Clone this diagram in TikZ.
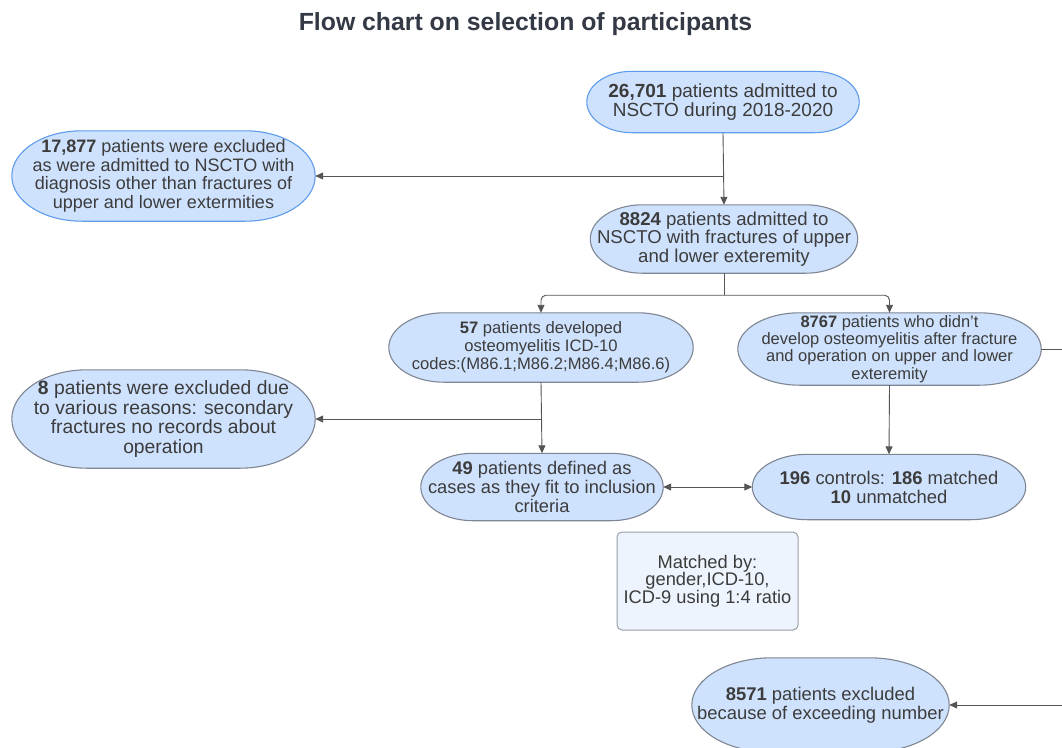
\documentclass[tikz,border=0pt]{standalone}
\usepackage{fontspec}
\setmainfont{Liberation Sans}
\usetikzlibrary{calc,arrows.meta,backgrounds}
\definecolor{boxfill}{HTML}{CFE2FD}
\definecolor{blueedge}{HTML}{5E9CEC}
\definecolor{grayedge}{HTML}{7E8693}
\definecolor{textcol}{HTML}{3C3C3C}
\definecolor{titlecol}{HTML}{333A45}
\definecolor{linecol}{HTML}{555555}
\definecolor{notefill}{HTML}{EEF4FD}
\definecolor{noteedge}{HTML}{9AA0A8}
\newcommand\fs[2]{\fontsize{#1}{#2}\selectfont}
\newcommand\stad[3]{%
  \path[fill=boxfill,draw=#3,line width=1.1pt]
    let \p1=(#1.north west), \p2=(#1.south east), \n1={(\y1-\y2)/2} in
    (\x1+#2pt,\y1) -- (\x2-#2pt,\y1)
    arc[start angle=90,end angle=-90,x radius=#2pt,y radius=\n1]
    -- (\x1+#2pt,\y2)
    arc[start angle=270,end angle=90,x radius=#2pt,y radius=\n1] -- cycle;}
\tikzset{
  txt/.style={inner sep=0pt, align=center, text=textcol},
  arr/.style={draw=linecol, line width=0.9pt, -{Triangle[length=8pt,width=7pt]}},
  dblarr/.style={draw=linecol, line width=0.9pt, {Triangle[length=8pt,width=7pt]}-{Triangle[length=8pt,width=7pt]}},
  ln/.style={draw=linecol, line width=0.9pt},
}
\begin{document}
\begin{tikzpicture}[x=1pt,y=1pt]
\useasboundingbox (0,0) rectangle (1062,-747);

\node[text=titlecol, font=\fs{24.8}{28}\bfseries] (title) at (525.5,-24) {Flow chart on selection of participants};

\node[txt, minimum width=272pt, minimum height=61pt, font=\fs{19}{19.5}] (A) at (723,-102)
  {\textbf{26,701} patients admitted to\\NSCTO during 2018-2020};
\node[txt, minimum width=303pt, minimum height=90pt, font=\fs{18}{18.5}] (B) at (163.5,-176)
  {\textbf{17,877} patients were excluded\\as were admitted to NSCTO with\\diagnosis other than fractures of\\upper and lower extermities};
\node[txt, minimum width=267pt, minimum height=68pt, font=\fs{18.6}{18.5}] (C) at (724,-239)
  {\textbf{8824} patients admitted to\\NSCTO with fractures of upper\\and lower exteremity};
\node[txt, minimum width=304pt, minimum height=69pt, font=\fs{16.6}{18}] (D) at (541,-347.5)
  {\textbf{57} patients developed\\osteomyelitis ICD-10\\codes:(M86.1;M86.2;M86.4;M86.6)};
\node[txt, minimum width=303pt, minimum height=72pt, font=\fs{16.5}{17.3}] (E) at (889.5,-349)
  {\textbf{8767} patients who didn't\\develop osteomyelitis after fracture\\and operation on upper and lower\\exteremity};
\node[txt, minimum width=303pt, minimum height=98pt, font=\fs{19.3}{19.5}] (F) at (163.5,-419)
  {\textbf{8} patients were excluded due\\to various reasons: secondary\\fractures no records about\\operation};
\node[txt, minimum width=242pt, minimum height=67pt, font=\fs{18.3}{19}] (G) at (542,-487)
  {\textbf{49} patients defined as\\cases as they fit to inclusion\\criteria};
\node[txt, minimum width=273pt, minimum height=65pt, font=\fs{18.4}{19}] (H) at (889,-487)
  {\textbf{196} controls: \textbf{186} matched\\\textbf{10} unmatched};
\node[txt, minimum width=181pt, minimum height=98pt, font=\fs{18.3}{17.5}, draw=noteedge, fill=notefill, line width=1pt, rounded corners=5pt] (I) at (707.5,-581)
  {Matched by:\\gender,ICD-10,\\ICD-9 using 1:4 ratio};
\node[txt, minimum width=257pt, minimum height=94pt, font=\fs{18.4}{19}] (J) at (820.5,-705)
  {\textbf{8571} patients excluded\\because of exceeding number};

\begin{pgfonlayer}{background}
  \fill[white] (0,0) rectangle (1062,-747);
  \stad{A}{45}{blueedge}
  \stad{B}{70}{blueedge}
  \stad{C}{52}{grayedge}
  \stad{D}{55}{grayedge}
  \stad{E}{62}{grayedge}
  \stad{F}{75}{grayedge}
  \stad{G}{52}{grayedge}
  \stad{H}{55}{grayedge}
  \stad{J}{80}{grayedge}
\end{pgfonlayer}

% connectors
\draw[arr] (A.south) -- (C.north);
\draw[arr] (A.south |- B.east) -- (B.east);
\coordinate (split) at ($(C.south)+(0,-22)$);
\draw[ln] (C.south) -- (split);
\draw[arr, rounded corners=5pt] (split) -| (D.north);
\draw[arr, rounded corners=5pt] (split) -| (E.north);
\draw[arr] (D.south) -- (G.north);
\draw[arr] (D.south |- F.east) -- (F.east);
\draw[arr] (E.south) -- (H.north);
\draw[dblarr] (G.east) -- (H.west);
\coordinate (rr) at (1080,0);
\draw[arr] (E.east) -- (E.east -| rr) |- (J.east);
\end{tikzpicture}
\end{document}
